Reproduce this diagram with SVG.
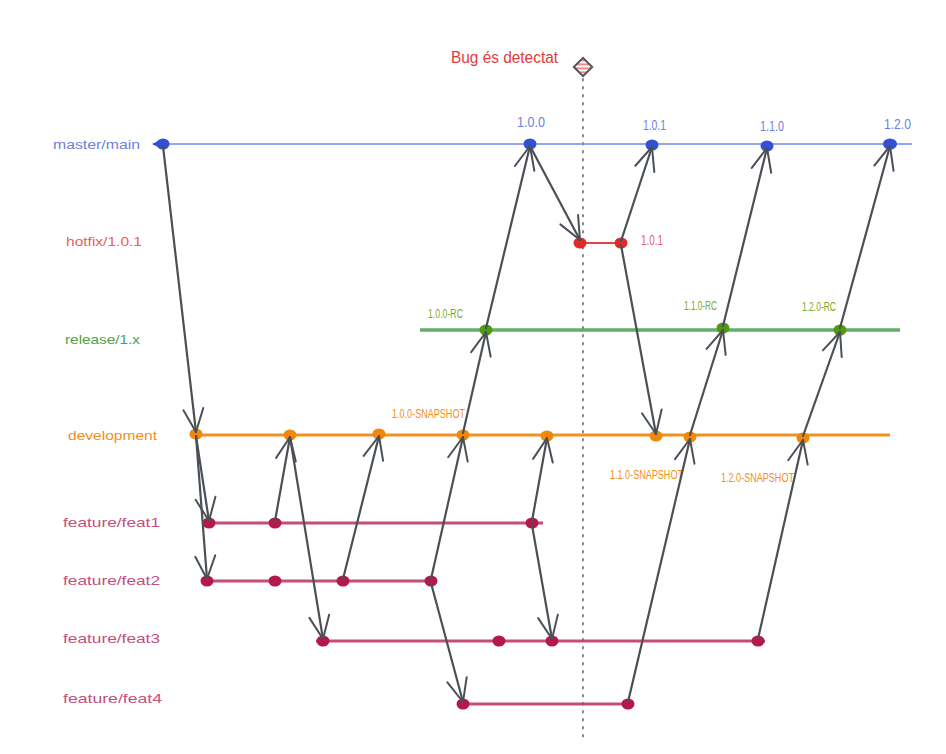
<svg xmlns="http://www.w3.org/2000/svg" width="946" height="754" viewBox="0 0 946 754">
<defs>
<marker id="ah" markerWidth="28" markerHeight="24" refX="25" refY="12" orient="auto" markerUnits="userSpaceOnUse">
<path d="M2 2 L25 12 L2 22" fill="none" stroke="#4b5057" stroke-width="2" stroke-linecap="round" stroke-linejoin="round"/>
</marker>
<pattern id="hatch" width="4" height="4" patternUnits="userSpaceOnUse" patternTransform="rotate(45)">
<rect width="4" height="4" fill="#fff"/>
<rect width="2" height="4" fill="#f08a8a"/>
</pattern>
</defs>
<style>
text{font-family:"Liberation Sans",Arial,sans-serif;font-size:13px;dominant-baseline:central}
.conn{fill:none;stroke:#4b5057;stroke-width:2.2;stroke-linecap:round;marker-end:url(#ah)}
.m{fill:#3350d2}.ml{stroke:#7088ee;stroke-width:1.5}.mt{fill:#6e80e6}
.h{fill:#e02a2a}.hl{stroke:#e04545;stroke-width:2}.ht{fill:#e86060}
.r{fill:#4f9a10}.rl{stroke:#4aa04e;stroke-width:3.5;opacity:.85}.rt{fill:#56a040}.rv{fill:#7aa82a}
.d{fill:#f0880c}.dl{stroke:#f19220;stroke-width:3}.dt{fill:#f0901a}
.f{fill:#b5184c}.fl{stroke:#c03a66;stroke-width:3;opacity:.9}.ft{fill:#c4507e}
</style>
<rect width="946" height="754" fill="#fff"/>

<g id="bug">
<line x1="583" y1="79" x2="583" y2="742" stroke="#8a8a8a" stroke-width="2" stroke-dasharray="1.5 6.5" stroke-linecap="round"/>
<rect x="576.5" y="60.5" width="13" height="13" transform="rotate(45 583 67)" fill="url(#hatch)" stroke="#555" stroke-width="2"/>
<text x="451" y="57" textLength="107" lengthAdjust="spacingAndGlyphs" style="font-size:16px;fill:#e03c3c">Bug és detectat</text>
</g>

<g id="master">
<text x="53" y="144" textLength="87" lengthAdjust="spacingAndGlyphs" class="mt">master/main</text>
<line x1="153" y1="144" x2="912" y2="144" class="ml"/>
<path d="M152 144 L160 140 L160 148Z" class="m"/>
<ellipse cx="163" cy="144" rx="6.5" ry="5.5" class="m"/>
<ellipse cx="530" cy="144" rx="6.5" ry="5.5" class="m"/>
<ellipse cx="652" cy="145" rx="6.5" ry="5.5" class="m"/>
<ellipse cx="767" cy="146" rx="6.5" ry="5.5" class="m"/>
<ellipse cx="890" cy="144" rx="7" ry="5.5" class="m"/>
<text x="517" y="122" textLength="28" lengthAdjust="spacingAndGlyphs" class="mt" style="font-size:14px">1.0.0</text>
<text x="643" y="125" textLength="23" lengthAdjust="spacingAndGlyphs" class="mt" style="font-size:14px">1.0.1</text>
<text x="760" y="126" textLength="24" lengthAdjust="spacingAndGlyphs" class="mt" style="font-size:14px">1.1.0</text>
<text x="884" y="124" textLength="27" lengthAdjust="spacingAndGlyphs" class="mt" style="font-size:14px">1.2.0</text>
</g>

<g id="hotfix">
<text x="66" y="241" textLength="76" lengthAdjust="spacingAndGlyphs" class="ht">hotfix/1.0.1</text>
<line x1="580" y1="243" x2="621" y2="243" class="hl"/>
<ellipse cx="580" cy="243" rx="6.5" ry="5.5" class="h"/>
<ellipse cx="621" cy="243" rx="6.5" ry="5.5" class="h"/>
<text x="641" y="240" textLength="22" lengthAdjust="spacingAndGlyphs" class="ht" style="font-size:14px">1.0.1</text>
</g>

<g id="release">
<text x="65" y="339" textLength="75" lengthAdjust="spacingAndGlyphs" class="rt">release/1.x</text>
<line x1="420" y1="330" x2="900" y2="330" class="rl"/>
<ellipse cx="486" cy="330" rx="6.5" ry="5.5" class="r"/>
<ellipse cx="723" cy="328" rx="6.5" ry="5.5" class="r"/>
<ellipse cx="840" cy="330" rx="6.5" ry="5.5" class="r"/>
<text x="428" y="313" textLength="35" lengthAdjust="spacingAndGlyphs" class="rv">1.0.0-RC</text>
<text x="684" y="305" textLength="33" lengthAdjust="spacingAndGlyphs" class="rv">1.1.0-RC</text>
<text x="802" y="306" textLength="34" lengthAdjust="spacingAndGlyphs" class="rv">1.2.0-RC</text>
</g>

<g id="development">
<text x="68" y="435" textLength="89" lengthAdjust="spacingAndGlyphs" class="dt">development</text>
<line x1="190" y1="435" x2="890" y2="435" class="dl"/>
<ellipse cx="196" cy="434" rx="6.5" ry="5.5" class="d"/>
<ellipse cx="290" cy="435" rx="6.5" ry="5.5" class="d"/>
<ellipse cx="379" cy="434" rx="6.5" ry="5.5" class="d"/>
<ellipse cx="463" cy="435" rx="6.5" ry="5.5" class="d"/>
<ellipse cx="547" cy="436" rx="6.5" ry="5.5" class="d"/>
<ellipse cx="656" cy="436" rx="6.5" ry="5.5" class="d"/>
<ellipse cx="690" cy="437" rx="6.5" ry="5.5" class="d"/>
<ellipse cx="803" cy="438" rx="6.5" ry="5.5" class="d"/>
<text x="392" y="413" textLength="73" lengthAdjust="spacingAndGlyphs" class="dt">1.0.0-SNAPSHOT</text>
<text x="610" y="474" textLength="73" lengthAdjust="spacingAndGlyphs" class="dt">1.1.0-SNAPSHOT</text>
<text x="721" y="477" textLength="73" lengthAdjust="spacingAndGlyphs" class="dt">1.2.0-SNAPSHOT</text>
</g>

<g id="feat1">
<text x="63" y="522" textLength="97" lengthAdjust="spacingAndGlyphs" class="ft">feature/feat1</text>
<line x1="205" y1="523" x2="543" y2="523" class="fl"/>
<ellipse cx="209" cy="523" rx="6.5" ry="5.5" class="f"/>
<ellipse cx="275" cy="523" rx="6.5" ry="5.5" class="f"/>
<ellipse cx="532" cy="523" rx="6.5" ry="5.5" class="f"/>
</g>

<g id="feat2">
<text x="63" y="580" textLength="97" lengthAdjust="spacingAndGlyphs" class="ft">feature/feat2</text>
<line x1="203" y1="581" x2="432" y2="581" class="fl"/>
<ellipse cx="207" cy="581" rx="6.5" ry="5.5" class="f"/>
<ellipse cx="275" cy="581" rx="6.5" ry="5.5" class="f"/>
<ellipse cx="343" cy="581" rx="6.5" ry="5.5" class="f"/>
<ellipse cx="431" cy="581" rx="6.5" ry="5.5" class="f"/>
</g>

<g id="feat3">
<text x="63" y="638" textLength="97" lengthAdjust="spacingAndGlyphs" class="ft">feature/feat3</text>
<line x1="316" y1="641" x2="765" y2="641" class="fl"/>
<ellipse cx="323" cy="641" rx="6.5" ry="5.5" class="f"/>
<ellipse cx="499" cy="641" rx="6.5" ry="5.5" class="f"/>
<ellipse cx="552" cy="641" rx="6.5" ry="5.5" class="f"/>
<ellipse cx="758" cy="641" rx="6.5" ry="5.5" class="f"/>
</g>

<g id="feat4">
<text x="63" y="698" textLength="99" lengthAdjust="spacingAndGlyphs" class="ft">feature/feat4</text>
<line x1="460" y1="704" x2="630" y2="704" class="fl"/>
<ellipse cx="463" cy="704" rx="6.5" ry="5.5" class="f"/>
<ellipse cx="628" cy="704" rx="6.5" ry="5.5" class="f"/>
</g>

<g id="connectors">
<line class="conn" x1="163" y1="146" x2="196" y2="432"/>
<line class="conn" x1="196" y1="436" x2="209" y2="521"/>
<line class="conn" x1="196" y1="436" x2="207" y2="579"/>
<line class="conn" x1="275" y1="521" x2="290" y2="437"/>
<line class="conn" x1="290" y1="437" x2="323" y2="639"/>
<line class="conn" x1="343" y1="579" x2="379" y2="436"/>
<line class="conn" x1="431" y1="579" x2="463" y2="437"/>
<line class="conn" x1="431" y1="583" x2="463" y2="702"/>
<line class="conn" x1="463" y1="433" x2="486" y2="332"/>
<line class="conn" x1="486" y1="328" x2="530" y2="146"/>
<line class="conn" x1="530" y1="146" x2="580" y2="240"/>
<line class="conn" x1="621" y1="241" x2="652" y2="147"/>
<line class="conn" x1="621" y1="245" x2="656" y2="434"/>
<line class="conn" x1="532" y1="521" x2="547" y2="438"/>
<line class="conn" x1="532" y1="525" x2="552" y2="639"/>
<line class="conn" x1="628" y1="702" x2="690" y2="439"/>
<line class="conn" x1="690" y1="435" x2="723" y2="330"/>
<line class="conn" x1="723" y1="326" x2="767" y2="148"/>
<line class="conn" x1="758" y1="639" x2="803" y2="440"/>
<line class="conn" x1="803" y1="436" x2="840" y2="332"/>
<line class="conn" x1="840" y1="328" x2="890" y2="146"/>
</g>
</svg>
